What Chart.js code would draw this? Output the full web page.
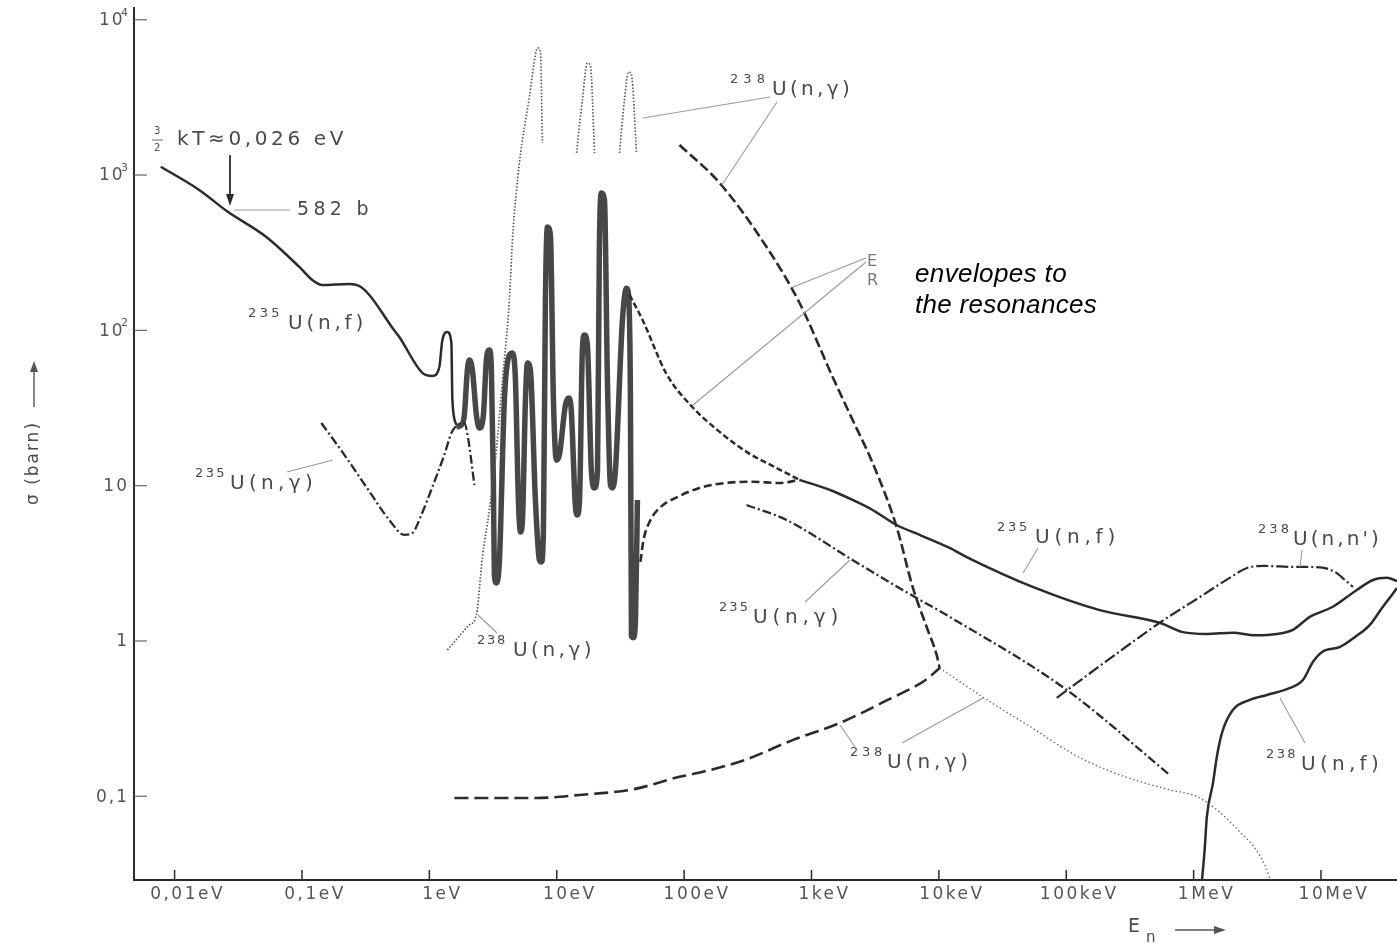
<!DOCTYPE html>
<html><head><meta charset="utf-8">
<script src="https://cdn.jsdelivr.net/npm/chart.js@4.4.0/dist/chart.umd.min.js"></script>
<style>html,body{margin:0;padding:0;background:#fff;}canvas{display:block;}</style>
</head><body>
<canvas id="c" width="1397" height="944" style="width:1397px;height:944px"></canvas>
<script>
// ---------- axis ticks ----------
const xTickValues = [0.01, 0.1, 1, 10, 100, 1e3, 1e4, 1e5, 1e6, 1e7];
const xTickLabels = ['0,01eV','0,1eV','1eV','10eV','100eV','1keV','10keV','100keV','1MeV','10MeV'];
const yTickValues = [0.1, 1, 10, 100, 1000, 10000];
const yTickLabels = [['0,1',''],['1',''],['10',''],['10','2'],['10','3'],['10','4']];

// ---------- series: [E (eV), sigma (barn)] ----------
const fis235Low = [[0.0078,1130],[0.0156,802],[0.026,582],[0.0525,399],[0.0953,256],[0.1205,211],[0.1444,196],[0.2353,199],[0.2818,193],[0.338,169],[0.512,104],[0.581,90.6],[0.881,53.2],[1.056,50.8],[1.198,58.1],[1.265,86.7],[1.385,97.7],[1.489,83],[1.516,35.6],[1.63,24.6]];
const fis235Res = [[1.63,23.9],[1.784,24.6],[1.883,28.5],[1.988,55.6],[2.062,64.5],[2.177,55.6],[2.34,28.5],[2.47,23.5],[2.657,28.5],[2.804,64.5],[2.96,74.8],[3.07,55.6],[3.18,10.9],[3.24,2.66],[3.36,2.36],[3.55,3.32],[3.88,35.6],[4.25,69.4],[4.49,71.5],[4.74,47.9],[5.0,8.09],[5.19,5.03],[5.38,6.01],[5.68,35.6],[5.89,61.7],[6.21,55.6],[6.8,8.09],[7.31,3.32],[7.58,3.23],[7.86,5.18],[8.15,157],[8.45,463],[8.92,411],[9.42,35.6],[9.94,14.6],[10.5,15.8],[11.7,33.1],[12.4,36.7],[13.0,30.7],[14.0,7.51],[14.5,6.48],[15.1,8.09],[15.9,74.8],[16.5,93.4],[17.4,80.5],[18.7,12.6],[19.8,9.66],[20.9,12.6],[21.6,329],[22.4,767],[23.7,691],[25.0,47.9],[26.4,10.1],[27.4,9.66],[28.9,12.6],[32.8,117],[35.3,187],[36.6,169],[37.9,35.6],[38.6,1.08],[40.0,1.05],[41.5,1.37],[43.0,8.09]];
const env235Upper = [[37.3,169],[47.1,117],[72.7,52.4],[116,32.1],[190,22.2],[309,16.5],[513,13.2],[806,10.9]];
const env235Lower = [[45.4,3.23],[48,4.47],[53.5,5.84],[64.1,7.18],[92,8.58],[132,9.66],[190,10.3],[345,10.6],[562,10.4],[806,10.9]];
const fis235High = [[806,10.9],[1465,9.24],[2102,8.09],[3019,6.97],[4660,5.58],[7063,4.82],[12150,3.97],[16530,3.47],[54540,2.23],[183200,1.58],[542000,1.31],[822000,1.14],[1.27e6,1.11],[2.03e6,1.13],[3.02e6,1.09],[4.5e6,1.11],[6.01e6,1.18],[8.17e6,1.43],[1.24e7,1.66],[1.91e7,2.13],[2.56e7,2.47],[3.29e7,2.55],[3.95e7,2.43]];
const capt235Low = [[0.1418,25.3],[0.215,15.8],[0.32,9.81],[0.485,6.01],[0.636,4.82],[0.735,4.96],[0.865,6.48],[1.056,9.81],[1.311,15.8],[1.489,21.8],[1.66,24.6],[1.883,25.3],[2.025,19.7],[2.14,14.2],[2.257,10.1]];
const capt235High = [[309,7.51],[637,6.01],[2102,3.32],[5196,2.13],[12150,1.43],[100900,0.484],[650300,0.137]];
const capt238Res = [[1.385,0.875],[1.572,0.985],[2.062,1.27],[2.34,1.47],[2.61,3.47],[2.96,6.97],[3.36,17.0],[3.75,47.9],[4.25,157],[4.49,382],[5.09,1196],[6.1,3183],[6.8,5934],[7.05,6580],[7.45,6203],[7.72,1609],null,[14.3,1388],[15.9,3044],[17.4,5268],[18.4,5039],[19.8,1388],null,[31.1,1388],[34.0,3044],[36.6,4611],[38.6,4411],[42.3,1388]];
const env238Upper = [[92,1562],[190,889],[444,344],[806,150],[1465,50.1],[2102,26.5],[3019,14.0],[4660,5.42],[6223,2.23],[8017,1.23],[9607,0.813],[10140,0.67]];
const env238Lower = [[1.572,0.0975],[3.55,0.0975],[6.8,0.0975],[15.1,0.102],[40,0.111],[90.4,0.133],[127,0.141],[298,0.171],[710,0.23],[1662,0.296],[3960,0.417],[7874,0.561],[10140,0.67]];
const capt238High = [[10140,0.67],[22070,0.436],[52580,0.279],[125300,0.179],[293300,0.133],[650300,0.11],[1.08e6,0.099],[1.63e6,0.078],[2.31e6,0.0589],[3.02e6,0.0465],[3.62e6,0.0361],[4.04e6,0.0281]];
const inel238 = [[84220,0.43],[183200,0.69],[542000,1.31],[1.12e6,1.92],[1.92e6,2.55],[2.62e6,2.95],[3.6e6,3.04],[6e6,3.0],[9.8e6,2.98],[1.29e7,2.78],[1.54e7,2.47],[1.78e7,2.23]];
const fis238 = [[1.16e6,0.0281],[1.22e6,0.0451],[1.27e6,0.0736],[1.42e6,0.122],[1.52e6,0.179],[1.67e6,0.256],[2.03e6,0.359],[2.76e6,0.417],[3.76e6,0.449],[5.7e6,0.498],[7.21e6,0.561],[8.63e6,0.732],[1.02e7,0.85],[1.41e7,0.915],[1.85e7,1.06],[2.42e7,1.27],[3.01e7,1.63],[3.6e7,1.98],[3.95e7,2.19]];

// ---------- appearance ----------
const INK = '#2b2b2b', GREY = '#474747', LEAD = '#9a9a9a';
const X_MIN = 0.0048, X_MAX = 3.95e7, Y_MIN = 0.0289, Y_MAX = 11900;

function toPts(arr){ const out=[]; let last=1; for(const p of arr){ if(p===null){ out.push({x:last,y:null}); } else { out.push({x:p[0],y:p[1]}); last=p[0]; } } return out; }
function ds(data, o){ return Object.assign({data:toPts(data), borderColor:INK, borderWidth:2.4, pointRadius:0, fill:false, cubicInterpolationMode:'monotone', spanGaps:false}, o); }

const datasets = [
  ds(capt238Res,  {borderColor:'#555', borderWidth:1.7, borderDash:[1.5,1.8]}),
  ds(capt238High, {borderColor:'#666', borderWidth:1.3, borderDash:[1.5,2.5]}),
  ds(env238Lower, {borderWidth:2.6, borderDash:[14,6]}),
  ds(env238Upper, {borderWidth:2.6, borderDash:[10,4]}),
  ds(env235Lower, {borderWidth:2.6, borderDash:[8,4]}),
  ds(env235Upper, {borderWidth:2.5, borderDash:[6,3]}),
  ds(capt235Low,  {borderWidth:2.3, borderDash:[9,3,2,3]}),
  ds(capt235High, {borderWidth:2.3, borderDash:[9,3,2,3]}),
  ds(inel238,     {borderWidth:2.2, borderDash:[12,3,2,3]}),
  ds(fis235Low,   {borderWidth:2.5}),
  ds(fis235High,  {borderWidth:2.5}),
  ds(fis238,      {borderWidth:2.5}),
  ds(fis235Res,   {borderColor:GREY, borderWidth:5.5}),
  ds(fis235Res,   {borderColor:'#9c9c9c', borderWidth:2}),
];

function fitText(ctx, s, x, y, size, width, o){
  o = o || {};
  ctx.font = (o.style||'') + ' ' + size + 'px ' + (o.family||'"DejaVu Sans"');
  ctx.letterSpacing = '0px';
  const w = ctx.measureText(s).width;
  const sp = (width!=null) ? (width - w)/s.length : (o.sp||0);
  ctx.letterSpacing = sp + 'px';
  ctx.fillStyle = o.color || '#4a4a4a';
  ctx.textBaseline = 'middle';
  ctx.textAlign = 'left';
  let xx = x;
  if (o.center) xx = x - (w + sp*s.length)/2;
  if (o.right) xx = x - (w + sp*(s.length-1));
  ctx.fillText(s, xx, y);
  ctx.letterSpacing = '0px';
}
function seg(ctx, x1,y1,x2,y2, color, w){ ctx.beginPath(); ctx.strokeStyle=color; ctx.lineWidth=w; ctx.moveTo(x1,y1); ctx.lineTo(x2,y2); ctx.stroke(); }

// label placements (pixels): [massX, massW, restX, restW, centerY, mass, rest]
const nuclLabels = [
  [248,35,288,79,324,'235','U(n,f)'],
  [195,32,230,87,484,'235','U(n,γ)'],
  [477,30,513,82,651,'238','U(n,γ)'],
  [730,40,772,81,90,'238','U(n,γ)'],
  [719,31,753,90,618,'235','U(n,γ)'],
  [997,33,1035,85,538,'235','U(n,f)'],
  [1258,34,1293,89,540,'238',"U(n,n')"],
  [1266,32,1301,82,765,'238','U(n,f)'],
  [850,36,887,85,763,'238','U(n,γ)'],
];
const leaders = [
  [287,472,333,460],[478,615,497,633],[770,97,643,118],[777,102,722,185],
  [866,258,793,287],[866,262,693,405],[805,602,850,560],[1038,548,1023,573],
  [1302,550,1300,567],[1305,743,1280,698],[855,747,840,725],[902,743,983,698],[234,210,290,210]
];

const deco = {
  id:'deco',
  afterDraw(chart){
    const ctx = chart.ctx, xs = chart.scales.x, ys = chart.scales.y, a = chart.chartArea;
    ctx.save();
    xTickValues.forEach(v=>{ const p = xs.getPixelForValue(v); seg(ctx,p,a.bottom,p,a.bottom-10,INK,1.5); });
    yTickValues.forEach(v=>{ const p = ys.getPixelForValue(v); seg(ctx,a.left,p,a.left+13,p,'#666',1.2); });
    xTickValues.forEach((v,i)=>{ const p = xs.getPixelForValue(v); fitText(ctx, xTickLabels[i], p+13, 895, 17, null, {sp:2.5, center:true, color:'#555'}); });
    yTickValues.forEach((v,i)=>{
      const p = ys.getPixelForValue(v); const [base, sup] = yTickLabels[i];
      if (sup){ fitText(ctx, base, 99, p+1, 17, null, {sp:2, color:'#555'}); fitText(ctx, sup, 121, p-7, 11, null, {sp:0, color:'#555'}); }
      else { fitText(ctx, base, 127, p+1, 17, null, {sp:2, right:true, color:'#555'}); }
    });
    leaders.forEach(l=>seg(ctx,l[0],l[1],l[2],l[3],LEAD,1.1));
    nuclLabels.forEach(l=>{
      fitText(ctx, l[5], l[0], l[4]-10, 13, l[1]);
      fitText(ctx, l[6], l[2], l[4], 20, l[3]);
    });
    fitText(ctx,'3',154,131,10,null); seg(ctx,152,140,163,140,'#666',1); fitText(ctx,'2',154,148,10,null);
    fitText(ctx,'kT≈0,026 eV',177,140,20,170);
    seg(ctx,230,155,230,198,INK,1.8);
    ctx.beginPath(); ctx.fillStyle=INK; ctx.moveTo(226,194); ctx.lineTo(234,194); ctx.lineTo(230,206); ctx.closePath(); ctx.fill();
    fitText(ctx,'582 b',297,210,19,76);
    fitText(ctx,'E',867,262,16,null,{color:'#777'});
    fitText(ctx,'R',867,281,16,null,{color:'#777'});
    fitText(ctx,'envelopes to',915,275,26,152,{family:'"Liberation Sans", Arial',style:'italic',color:'#000'});
    fitText(ctx,'the resonances',915,306,26,182,{family:'"Liberation Sans", Arial',style:'italic',color:'#000'});
    fitText(ctx,'E',1128,927,19,null);
    fitText(ctx,'n',1146,938,15,null);
    seg(ctx,1175,930,1218,930,'#555',1.4);
    ctx.beginPath(); ctx.fillStyle='#555'; ctx.moveTo(1226,930); ctx.lineTo(1214,926); ctx.lineTo(1214,934); ctx.closePath(); ctx.fill();
    ctx.translate(34,463); ctx.rotate(-Math.PI/2);
    fitText(ctx,'σ (barn)',0,0,17,84,{center:true});
    seg(ctx,56,0,96,0,'#555',1.4);
    ctx.beginPath(); ctx.fillStyle='#555'; ctx.moveTo(102,0); ctx.lineTo(91,-4); ctx.lineTo(91,4); ctx.closePath(); ctx.fill();
    ctx.restore();
  }
};

new Chart(document.getElementById('c'), {
  type:'line',
  data:{datasets},
  options:{
    responsive:false, animation:false, devicePixelRatio:1, events:[],
    layout:{padding:{top:8,right:0,bottom:0,left:0}},
    plugins:{legend:{display:false}, tooltip:{enabled:false}},
    scales:{
      x:{type:'logarithmic', bounds:'data', min:X_MIN, max:X_MAX, afterFit(s){ s.height=64; },
         ticks:{display:false}, grid:{display:false}, border:{display:true,color:INK,width:2}},
      y:{type:'logarithmic', bounds:'data', min:Y_MIN, max:Y_MAX, afterFit(s){ s.width=134; },
         ticks:{display:false}, grid:{display:false}, border:{display:true,color:INK,width:2}}
    }
  },
  plugins:[deco]
});
</script>
</body></html>
